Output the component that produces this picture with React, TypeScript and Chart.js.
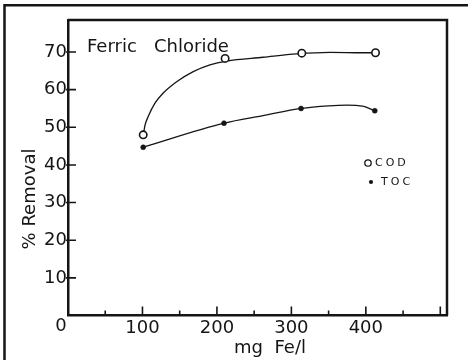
import React, { useEffect, useRef } from 'react';
import { Chart, registerables } from 'chart.js';

Chart.register(...registerables);

// Measured points (mg Fe/l, % removal)
const codDose = [101, 211, 314, 413];
const codRemoval = [48.0, 68.3, 69.7, 69.8];
const tocDose = [101, 209.5, 313, 412];
const tocRemoval = [44.7, 51.1, 55.0, 54.4];

// Hand-drawn fitted curves
const codCurveDose = [102, 103.5, 107.8, 116.8, 127.9, 145.9, 168.2, 190.6, 213, 262, 307, 352, 396, 413];
const codCurveRemoval = [49.0, 50.6, 52.9, 56.4, 59.1, 62.1, 64.8, 66.6, 67.6, 68.6, 69.5, 69.9, 69.8, 69.8];
const tocCurveDose = [101, 209.5, 262, 313, 350, 374, 396, 412];
const tocCurveRemoval = [44.7, 51.1, 53.1, 55.0, 55.7, 55.9, 55.6, 54.4];

const xLabelValues = [100, 200, 300, 400];
const xMajorTicks = [100, 200, 300, 400, 500];
const xMinorTicks = [50, 150, 250, 350, 450];
const yTickValues = [10, 20, 30, 40, 50, 60, 70];

const titleText = 'Ferric   Chloride';
const yTitle = '% Removal';
const xTitle = 'mg  Fe/l';
const legendLabels = ['COD', 'TOC'];

const INK = '#151515';
const FONT = "'DejaVu Sans', sans-serif";

const decorPlugin = {
  id: 'decor',
  beforeDraw(chart: any) {
    const ctx = chart.ctx;
    ctx.save();
    ctx.fillStyle = '#fff';
    ctx.fillRect(0, 0, chart.width, chart.height);
    // outer frame (left & top)
    ctx.strokeStyle = INK;
    ctx.lineWidth = 2.5;
    ctx.beginPath();
    ctx.moveTo(4.5, chart.height + 2);
    ctx.lineTo(4.5, 5.3);
    ctx.lineTo(chart.width + 2, 5.3);
    ctx.stroke();
    ctx.restore();
  },
  afterDraw(chart: any) {
    const ctx = chart.ctx;
    const a = chart.chartArea;
    const xs = chart.scales.x;
    const ys = chart.scales.y;
    ctx.save();
    ctx.strokeStyle = INK;
    // plot frame top and right
    ctx.lineWidth = 2.5;
    ctx.beginPath();
    ctx.moveTo(a.left, a.top);
    ctx.lineTo(a.right, a.top);
    ctx.lineTo(a.right, a.bottom);
    ctx.stroke();
    // tick marks
    ctx.lineWidth = 1.6;
    ctx.beginPath();
    yTickValues.forEach((v) => {
      const y = ys.getPixelForValue(v);
      ctx.moveTo(a.left - 2, y);
      ctx.lineTo(a.left + 8, y);
    });
    xMajorTicks.forEach((v) => {
      const x = xs.getPixelForValue(v);
      ctx.moveTo(x, a.bottom);
      ctx.lineTo(x, a.bottom - 9);
    });
    xMinorTicks.forEach((v) => {
      const x = xs.getPixelForValue(v);
      ctx.moveTo(x, a.bottom);
      ctx.lineTo(x, a.bottom - 5);
    });
    ctx.stroke();

    ctx.fillStyle = INK;
    ctx.font = `18px ${FONT}`;
    ctx.textBaseline = 'middle';
    ctx.textAlign = 'center';
    // origin label
    ctx.fillText('0', xs.getPixelForValue(0) - 7, a.bottom + 10.5);
    // title inside plot
    ctx.textAlign = 'left';
    ctx.textBaseline = 'alphabetic';
    ctx.fillText(titleText, 87, 52);
    // x title
    ctx.textAlign = 'center';
    ctx.fillText(xTitle, 270, 353);
    // y title
    ctx.save();
    ctx.translate(34.5, 199);
    ctx.rotate(-Math.PI / 2);
    ctx.textBaseline = 'alphabetic';
    ctx.fillText(yTitle, 0, 0);
    ctx.restore();

    // legend
    ctx.font = `11px ${FONT}`;
    ctx.textAlign = 'left';
    ctx.textBaseline = 'middle';
    try { (ctx as any).letterSpacing = '3px'; } catch (e) {}
    ctx.lineWidth = 1.3;
    ctx.beginPath();
    ctx.arc(368, 163, 3.2, 0, Math.PI * 2);
    ctx.stroke();
    ctx.fillText(legendLabels[0], 375, 163.5);
    ctx.beginPath();
    ctx.arc(371, 182, 2.1, 0, Math.PI * 2);
    ctx.fill();
    ctx.fillText(legendLabels[1], 381, 182.5);
    try { (ctx as any).letterSpacing = '0px'; } catch (e) {}
    ctx.restore();
  },
};

export default function App() {
  const ref = useRef<HTMLCanvasElement | null>(null);
  useEffect(() => {
    if (!ref.current) return;
    const toPts = (xs: number[], ys: number[]) => xs.map((x, i) => ({ x, y: ys[i] }));
    const chart = new Chart(ref.current, {
      type: 'scatter',
      data: {
        datasets: [
          {
            label: 'COD',
            data: toPts(codDose, codRemoval),
            pointRadius: 3.7,
            pointBackgroundColor: '#fff',
            pointBorderColor: INK,
            pointBorderWidth: 1.6,
            showLine: false,
            order: 0,
          },
          {
            label: 'TOC',
            data: toPts(tocDose, tocRemoval),
            pointRadius: 2.5,
            pointBackgroundColor: INK,
            pointBorderColor: INK,
            pointBorderWidth: 0.5,
            showLine: false,
            order: 0,
          },
          {
            label: 'COD fit',
            data: toPts(codCurveDose, codCurveRemoval),
            showLine: true,
            pointRadius: 0,
            borderColor: INK,
            borderWidth: 1.3,
            cubicInterpolationMode: 'monotone',
            order: 1,
          },
          {
            label: 'TOC fit',
            data: toPts(tocCurveDose, tocCurveRemoval),
            showLine: true,
            pointRadius: 0,
            borderColor: INK,
            borderWidth: 1.3,
            cubicInterpolationMode: 'monotone',
            order: 1,
          },
        ],
      },
      options: {
        animation: false,
        responsive: false,
        devicePixelRatio: 1,
        layout: { padding: { left: 0, right: 21, top: 20, bottom: 0 } },
        plugins: { legend: { display: false }, tooltip: { enabled: false } },
        scales: {
          x: {
            type: 'linear',
            min: 0,
            max: 509,
            afterFit: (s: any) => { s.height = 44.5; },
            grid: { drawOnChartArea: false, drawTicks: false },
            border: { display: true, color: INK, width: 2.5 },
            ticks: {
              stepSize: 50,
              includeBounds: false,
              autoSkip: false,
              maxRotation: 0,
              padding: 2,
              color: INK,
              font: { family: FONT, size: 18 },
              callback: (v: any) => (xLabelValues.includes(Number(v)) ? String(v) : ''),
            },
          },
          y: {
            type: 'linear',
            min: 0,
            max: 78.5,
            afterFit: (s: any) => { s.width = 68; },
            grid: { drawOnChartArea: false, drawTicks: false },
            border: { display: true, color: INK, width: 2.5 },
            ticks: {
              stepSize: 10,
              includeBounds: false,
              padding: 1,
              color: INK,
              font: { family: FONT, size: 18 },
              callback: (v: any) => (yTickValues.includes(Number(v)) ? String(v) : ''),
            },
          },
        },
      },
      plugins: [decorPlugin],
    } as any);
    return () => chart.destroy();
  }, []);
  return (
    <div style={{ position: 'absolute', left: 0, top: 0, width: 468, height: 360, background: '#fff' }}>
      <canvas ref={ref} width={468} height={360} style={{ display: 'block' }} />
    </div>
  );
}
